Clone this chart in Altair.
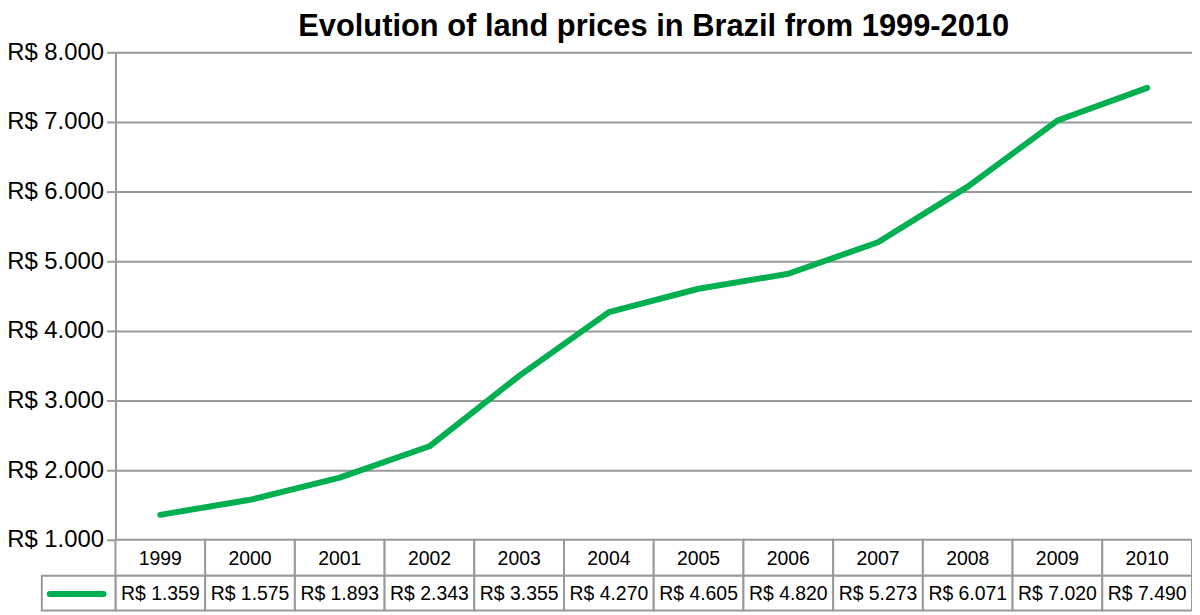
import altair as alt
import pandas as pd

years = ["1999", "2000", "2001", "2002", "2003", "2004", "2005", "2006", "2007", "2008", "2009", "2010"]
prices = [1359, 1575, 1893, 2343, 3355, 4270, 4605, 4820, 5273, 6071, 7020, 7490]
value_labels = ["R$ 1.359", "R$ 1.575", "R$ 1.893", "R$ 2.343", "R$ 3.355", "R$ 4.270",
                "R$ 4.605", "R$ 4.820", "R$ 5.273", "R$ 6.071", "R$ 7.020", "R$ 7.490"]
y_ticks = [1000, 2000, 3000, 4000, 5000, 6000, 7000, 8000]

df = pd.DataFrame({"year": years, "price": prices, "label": value_labels})

W, H = 1082, 490
R1, R2 = 36, 71
FONT = "Liberation Sans"
GRAY = "#999999"
GREEN = "#00b050"

xscale = alt.Scale(type="band", paddingInner=0, paddingOuter=0, domain=years)
x = alt.X("year:N", scale=xscale, axis=None, sort=years)

base = alt.Chart(df)

row1 = base.mark_rect(fill="white", stroke=GRAY, strokeWidth=2).encode(
    x=x, y=alt.value(H), y2=alt.value(H + R1))
row2 = base.mark_rect(fill="white", stroke=GRAY, strokeWidth=2).encode(
    x=x, y=alt.value(H + R1), y2=alt.value(H + R2))

year_text = base.mark_text(font=FONT, fontSize=19.5, color="black", baseline="middle").encode(
    x=x, y=alt.value(H + R1 / 2 + 1), text="year:N")
val_text = base.mark_text(font=FONT, fontSize=19.5, color="black", baseline="middle").encode(
    x=x, y=alt.value(H + (R1 + R2) / 2 + 1), text="label:N")

one = pd.DataFrame({"k": [0]})
left_cell = alt.Chart(one).mark_rect(fill="white", stroke=GRAY, strokeWidth=2).encode(
    x=alt.value(-74), x2=alt.value(0), y=alt.value(H + R1), y2=alt.value(H + R2))
swatch = alt.Chart(one).mark_rule(color=GREEN, strokeWidth=6, strokeCap="round").encode(
    x=alt.value(-66), x2=alt.value(-12), y=alt.value(H + (R1 + R2) / 2 + 1))

line = base.mark_line(color=GREEN, strokeWidth=6, strokeCap="round", strokeJoin="round").encode(
    x=x,
    y=alt.Y("price:Q",
            scale=alt.Scale(domain=[1000, 8000], nice=False, zero=False),
            axis=alt.Axis(values=y_ticks,
                          labelExpr="'R$ ' + replace(format(datum.value, ',.0f'), ',', '.')",
                          title=None, grid=True, gridColor=GRAY, gridWidth=2,
                          domainColor=GRAY, domainWidth=2, tickColor=GRAY, tickSize=9,
                          tickWidth=2, labelFont=FONT, labelFontSize=24, labelColor="black",
                          labelPadding=3)))

chart = alt.layer(row1, row2, left_cell, swatch, year_text, val_text, line).properties(
    width=W, height=H,
    padding={"left": 108, "top": 43, "right": 0, "bottom": 72},
    autosize=alt.AutoSizeParams(type="none"),
    title=alt.TitleParams("Evolution of land prices in Brazil from 1999-2010",
                          font=FONT, fontSize=31, fontWeight="bold", color="black",
                          anchor="middle", offset=-3),
).configure_view(stroke=None)

chart.save("out.html", embed_options={"renderer": "svg", "actions": False})
